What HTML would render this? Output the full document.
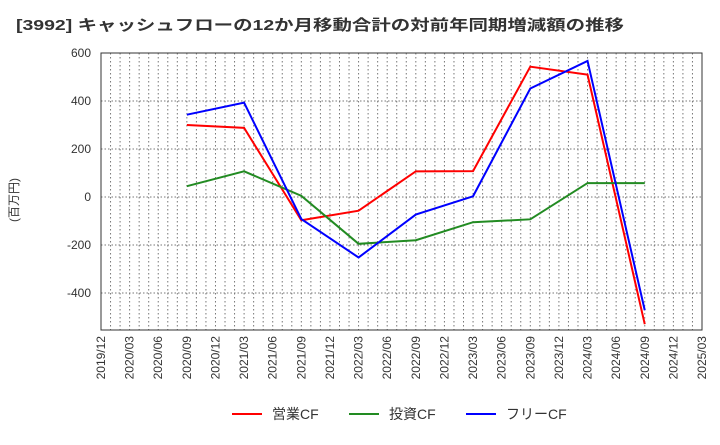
<!DOCTYPE html>
<html><head><meta charset="utf-8"><style>
body{margin:0;background:#fff;font-family:"Liberation Sans","Noto Sans CJK JP",sans-serif}
</style></head><body>
<svg width="720" height="440" xmlns="http://www.w3.org/2000/svg" font-family="Liberation Sans, Noto Sans CJK JP, sans-serif">
<text x="16" y="30" font-size="15" font-weight="bold" fill="#333" textLength="608" lengthAdjust="spacingAndGlyphs">[3992]  キャッシュフローの12か月移動合計の対前年同期増減額の推移</text>
<text x="18" y="200" font-size="12" fill="#333" transform="rotate(-90 18 200)" text-anchor="middle">(百万円)</text>
<g id="grid"></g><g id="axes"></g><g id="series"></g>
<rect x="101" y="53" width="601" height="277" fill="none" stroke="#333"/>
<g>
<line x1="232" y1="414" x2="262" y2="414" stroke="#f00" stroke-width="2"/><text x="272" y="419" font-size="14" fill="#333">営業CF</text>
<line x1="349" y1="414" x2="379" y2="414" stroke="#228b22" stroke-width="2"/><text x="389" y="419" font-size="14" fill="#333">投資CF</text>
<line x1="466" y1="414" x2="496" y2="414" stroke="#00f" stroke-width="2"/><text x="506" y="419" font-size="14" fill="#333">フリーCF</text>
</g>
</svg>
<script>
const xLabels=["2019/12","2020/03","2020/06","2020/09","2020/12","2021/03","2021/06","2021/09","2021/12","2022/03","2022/06","2022/09","2022/12","2023/03","2023/06","2023/09","2023/12","2024/03","2024/06","2024/09","2024/12","2025/03"];
const yTicks=[-400,-200,0,200,400,600];
const pointIdx=[3,5,7,9,11,13,15,17,19];
const operatingCF=[300,288,-97,-57,107,108,543,510,-530];
const investingCF=[45,107,5,-195,-180,-105,-93,58,58];
const freeCF=[343,393,-92,-252,-73,3,452,567,-472];
const NS="http://www.w3.org/2000/svg";
const L=101,R=702,T=53,B=330;
const xs=i=>L+i*(R-L)/21;
const ys=v=>197-v*0.24;
function mk(t,a,p){const e=document.createElementNS(NS,t);for(const k in a)e.setAttribute(k,a[k]);p.appendChild(e);return e;}
const grid=document.getElementById('grid'),axes=document.getElementById('axes'),ser=document.getElementById('series');
for(let m=1;m<63;m++){const x=L+m*(R-L)/63;const l=mk('line',{x1:x,x2:x,y1:T,y2:B,stroke:'#777','stroke-dasharray':'1.5,2.5','stroke-width':1},grid);

}
yTicks.forEach(v=>{const y=ys(v);const l=mk('line',{x1:L,x2:R,y1:y,y2:y,stroke:'#777','stroke-dasharray':'1.5,2','stroke-width':1},grid);


const t=mk('text',{x:L-10,y:y+4,'text-anchor':'end','font-size':12,fill:'#333'},axes);t.textContent=v;

});
xLabels.forEach((s,i)=>{const x=xs(i);const t=mk('text',{x:x+4,y:B+6,'text-anchor':'end','font-size':12,fill:'#333',transform:`rotate(-90 ${x+4} ${B+6})`},axes);t.textContent=s;

});
[[operatingCF,'#f00','operating-cf-line'],[investingCF,'#228b22','investing-cf-line'],[freeCF,'#00f','free-cf-line']].forEach(([d,c,n])=>{
const p=mk('polyline',{points:d.map((v,i)=>xs(pointIdx[i])+','+ys(v)).join(' '),fill:'none',stroke:c,'stroke-width':2},ser);

});
</script>
</body></html>
